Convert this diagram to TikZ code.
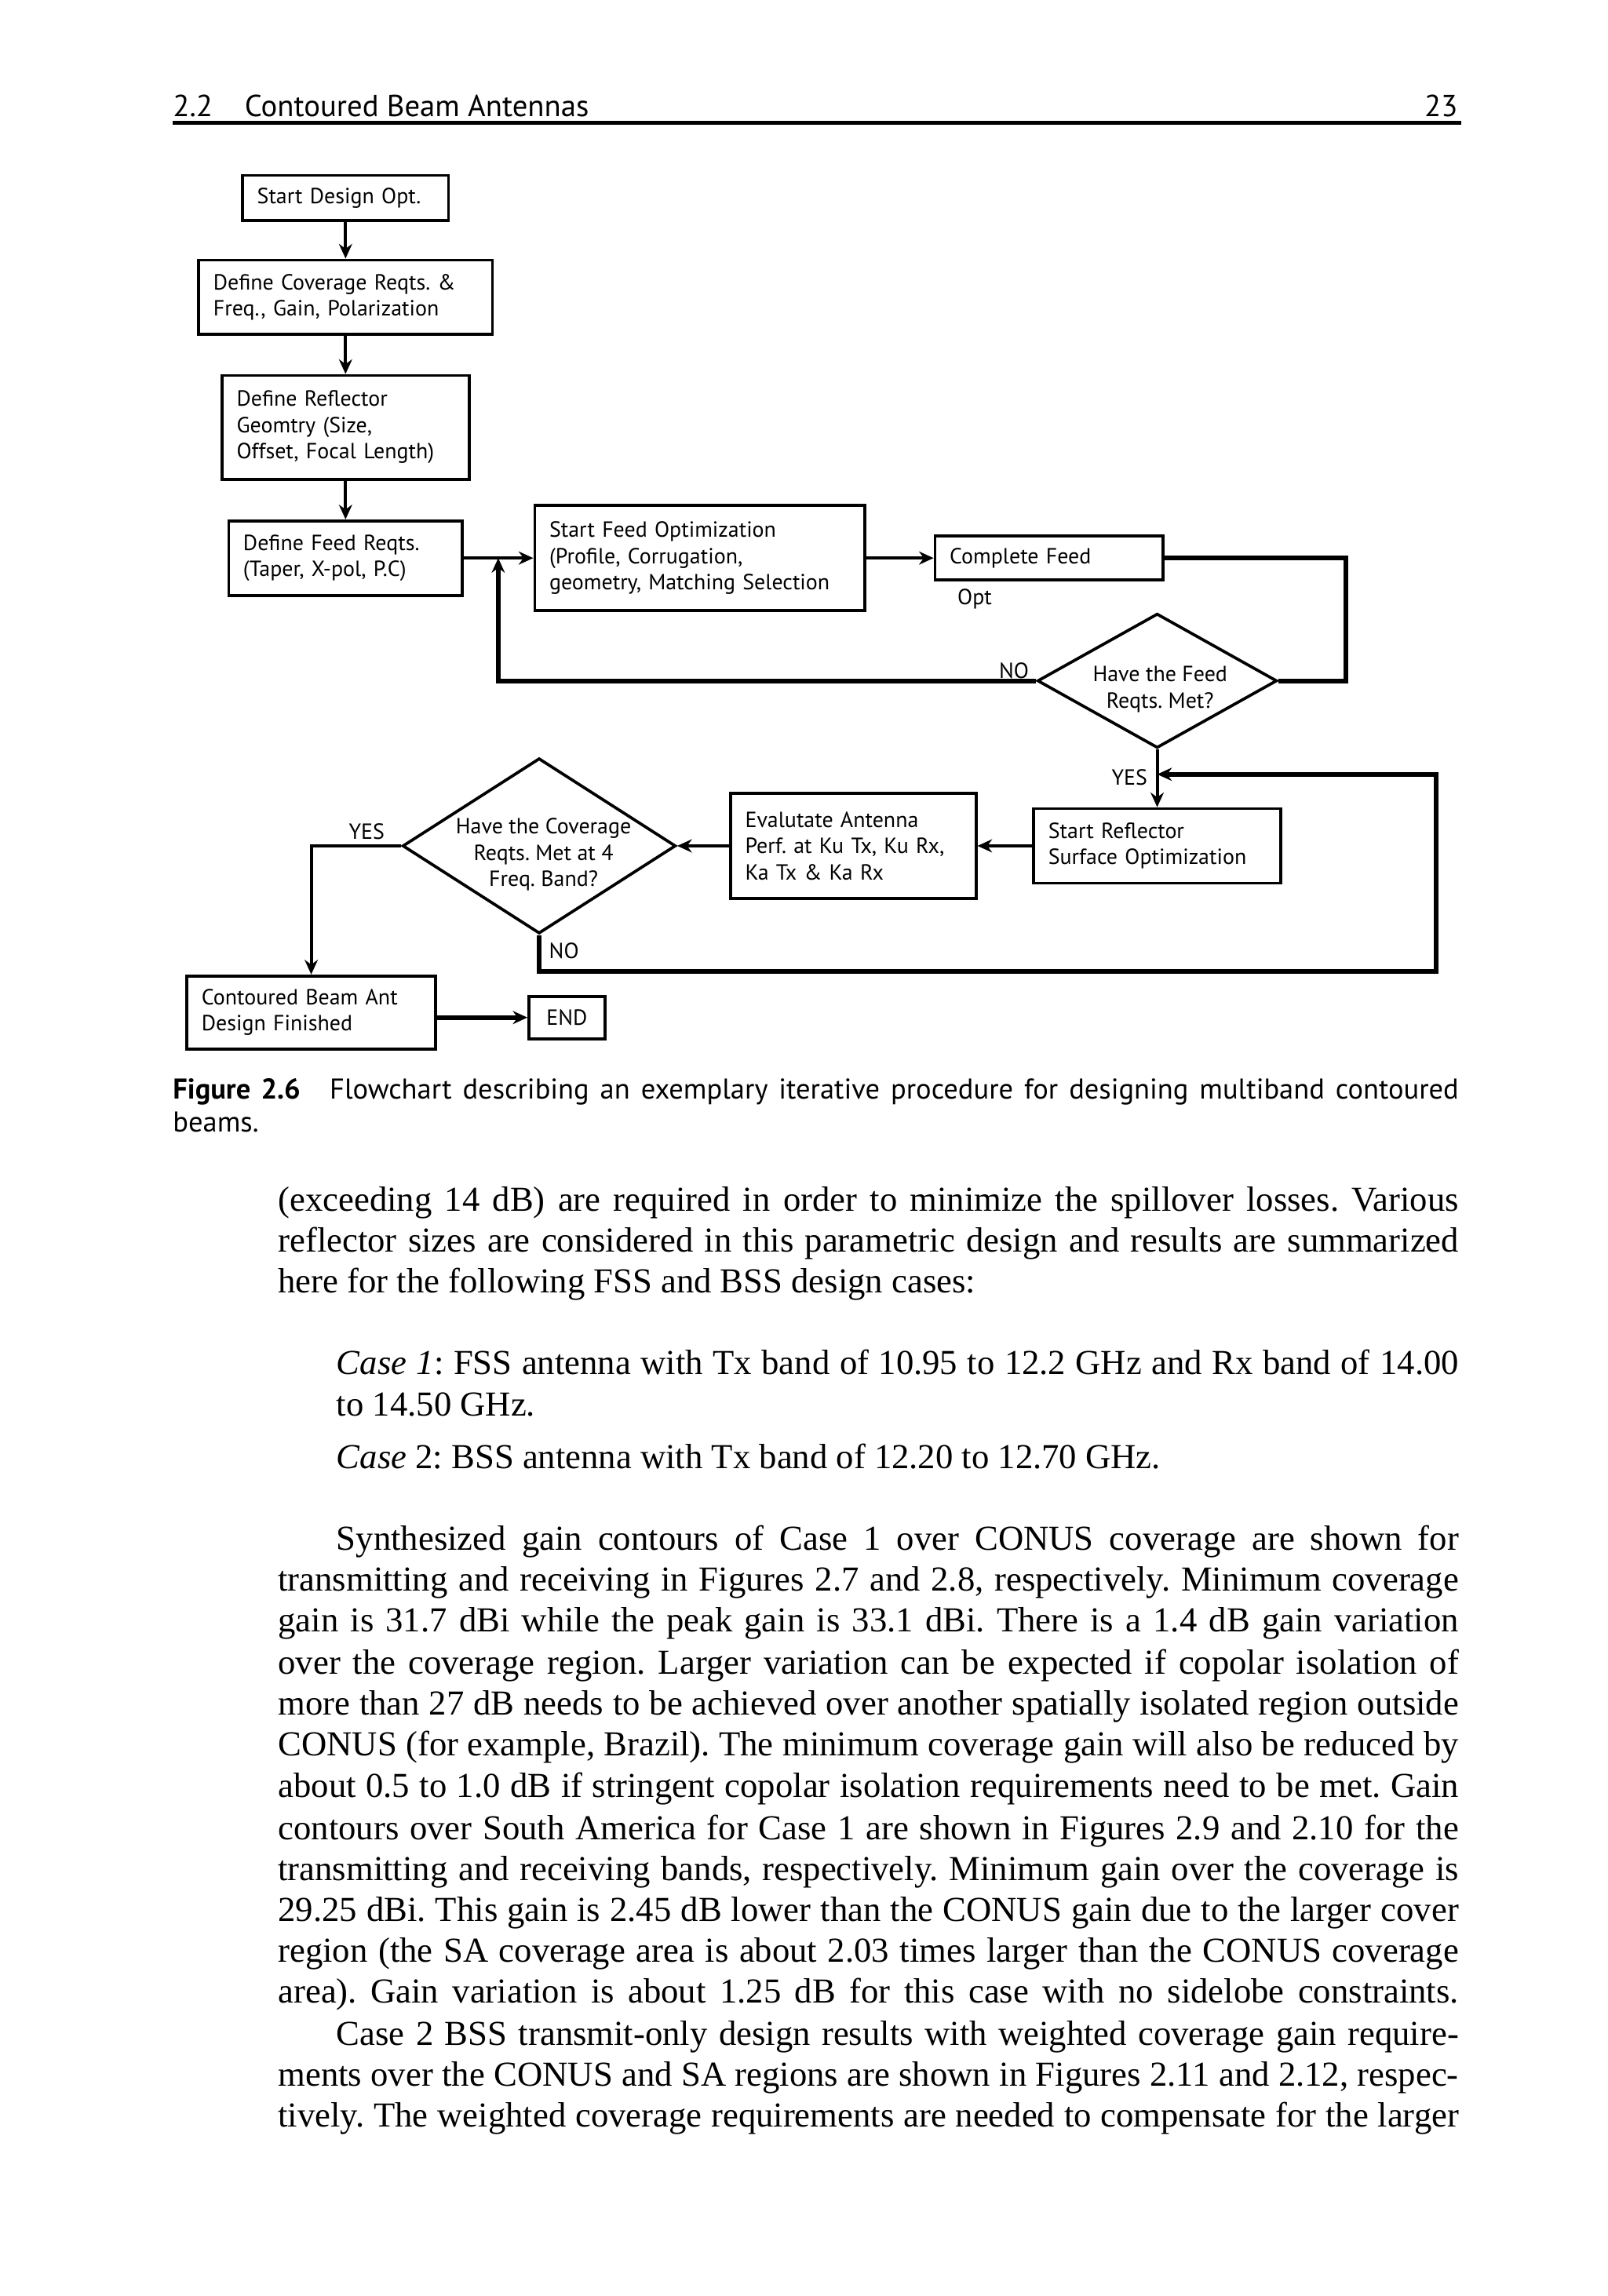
\documentclass[tikz,border=0pt]{standalone}
\usepackage{fontspec}
\setmainfont{Liberation Serif}
\newfontfamily\flowfont{PT Sans}
\usetikzlibrary{shapes.geometric,arrows.meta}
\frenchspacing
\tikzset{
  blk/.style={draw, line width=1pt, inner xsep=5pt, inner ysep=2pt, align=left, font=\flowfont\fontsize{7.5}{9}\selectfont},
  dec/.style={draw, diamond, line width=1pt, inner sep=0pt},
  dectxt/.style={align=center, inner sep=0pt, font=\flowfont\fontsize{7.5}{9}\selectfont},
  lbl/.style={inner sep=0pt, font=\flowfont\fontsize{7.5}{9}\selectfont},
  flow/.style={line width=1.1pt, -{Stealth[length=5pt,width=4.5pt]}},
  fbline/.style={line width=1.6pt},
  hdr/.style={anchor=base, inner sep=0pt, font=\flowfont\fontsize{10.4}{13}\selectfont},
  capline/.style={anchor=base west, inner sep=0pt, font=\flowfont\fontsize{9.8}{11.5}\selectfont},
  txt/.style={anchor=base west, inner sep=0pt, font=\fontsize{12}{14}\selectfont}
}
\newcommand{\fullline}[1]{\makebox[404pt][s]{#1}}
\newcommand{\caseline}[1]{\makebox[384pt][s]{#1}}
\begin{document}
\begin{tikzpicture}[x=0.5pt,y=-0.5pt]
  \useasboundingbox (0,0) rectangle (1100,1571.6);

  \node[hdr, anchor=base west] (HA) at (118,80) {2.2\hspace{11pt}Contoured Beam Antennas};
  \node[hdr, anchor=base east] (HB) at (998,80) {23};
  \draw[line width=1.3pt] (118,84) -- (1000,84);

  \node[blk, text width=60.5pt, minimum height=15.5pt] (FA) at (236.5,135.5) {Start Design Opt.};
  \node[blk, text width=90.5pt, minimum height=25.5pt] (FB) at (236.5,203.5) {Define Coverage Reqts. \&\\Freq., Gain, Polarization};
  \node[blk, text width=74.5pt, minimum height=35.5pt] (FC) at (236.5,292.5) {Define Reflector\\Geomtry (Size,\\Offset, Focal Length)};
  \node[blk, text width=70pt, minimum height=25.5pt] (FD) at (236.5,382) {Define Feed Reqts.\\(Taper, X-pol, P.C)};
  \node[blk, text width=103pt, minimum height=36pt] (FE) at (479,382) {Start Feed Optimization\\(Profile, Corrugation,\\geometry, Matching Selection};
  \node[blk, text width=68pt, minimum height=15pt] (FF) at (718,382) {Complete Feed};
  \node[lbl, anchor=west] (FG) at (655,410) {Opt};
  \node[dec, minimum width=82pt, minimum height=46pt] (FH) at (792,466) {};
  \node[dectxt] (FI) at (794,472) {Have the Feed\\Reqts. Met?};
  \node[blk, text width=74.5pt, minimum height=25.5pt] (FJ) at (792,579) {Start Reflector\\Surface Optimization};
  \node[blk, text width=74pt, minimum height=36pt] (FK) at (584,579) {Evalutate Antenna\\Perf. at Ku Tx, Ku Rx,\\Ka Tx \& Ka Rx};
  \node[dec, minimum width=93.5pt, minimum height=60pt] (FL) at (369,579) {};
  \node[dectxt] (FM) at (372,585) {Have the Coverage\\Reqts. Met at 4\\Freq. Band?};
  \node[blk, text width=75pt, minimum height=25pt] (FN) at (213,693) {Contoured Beam Ant\\Design Finished};
  \node[blk, align=center, minimum width=26pt, minimum height=14.5pt] (FO) at (388,696.5) {END};

  \node[lbl] (LA) at (694,459) {NO};
  \node[lbl] (LB) at (773,532) {YES};
  \node[lbl] (LC) at (251,569) {YES};
  \node[lbl] (LD) at (386,651) {NO};

  \coordinate (CA) at (921,466);
  \coordinate (CB) at (341,466);
  \coordinate (CC) at (341,382);
  \coordinate (CD) at (983,665);
  \coordinate (CE) at (983,530);
  \coordinate (CF) at (792,530);

  \draw[flow] (FA) -- (FB);
  \draw[flow] (FB) -- (FC);
  \draw[flow] (FC) -- (FD);
  \draw[flow] (FD) -- (FE);
  \draw[flow] (FE) -- (FF);
  \draw[fbline] (FF.east) -| (CA) -- (FH.east);
  \draw[flow, fbline] (FH.west) -- (CB) -- (CC);
  \draw[flow] (FH) -- (FJ);
  \draw[flow, fbline] (FL.south) |- (CD) -- (CE) -- (CF);
  \draw[flow] (FJ) -- (FK);
  \draw[flow] (FK) -- (FL);
  \draw[flow] (FL.west) -| (FN.north);
  \draw[flow, fbline] (FN.east |- FO) -- (FO);

  \node[capline] (TA) at (118,752) {\makebox[440pt][s]{\textbf{Figure 2.6}\hspace{10pt}Flowchart describing an exemplary iterative procedure for designing multiband contoured}};
  \node[capline] (TB) at (118,775) {beams.};

  \node[txt] (BA) at (190,829) {\fullline{(exceeding 14 dB) are required in order to minimize the spillover losses. Various}};
  \node[txt] (BB) at (190,857) {\fullline{reflector sizes are considered in this parametric design and results are summarized}};
  \node[txt] (BC) at (190,885) {here for the following FSS and BSS design cases:};
  \node[txt] (BD) at (230,941) {\caseline{\textit{Case 1}: FSS antenna with Tx band of 10.95 to 12.2 GHz and Rx band of 14.00}};
  \node[txt] (BE) at (230,969) {to 14.50 GHz.};
  \node[txt] (BF) at (230,1005) {\textit{Case} 2: BSS antenna with Tx band of 12.20 to 12.70 GHz.};
  \node[txt] (BG) at (230,1061) {\caseline{Synthesized gain contours of Case 1 over CONUS coverage are shown for}};
  \node[txt] (BH) at (190,1089) {\fullline{transmitting and receiving in Figures 2.7 and 2.8, respectively. Minimum coverage}};
  \node[txt] (BI) at (190,1117) {\fullline{gain is 31.7 dBi while the peak gain is 33.1 dBi. There is a 1.4 dB gain variation}};
  \node[txt] (BJ) at (190,1146) {\fullline{over the coverage region. Larger variation can be expected if copolar isolation of}};
  \node[txt] (BK) at (190,1174) {\fullline{more than 27 dB needs to be achieved over another spatially isolated region outside}};
  \node[txt] (BL) at (190,1202) {\fullline{CONUS (for example, Brazil). The minimum coverage gain will also be reduced by}};
  \node[txt] (BM) at (190,1230) {\fullline{about 0.5 to 1.0 dB if stringent copolar isolation requirements need to be met. Gain}};
  \node[txt] (BN) at (190,1259) {\fullline{contours over South America for Case 1 are shown in Figures 2.9 and 2.10 for the}};
  \node[txt] (BO) at (190,1287) {\fullline{transmitting and receiving bands, respectively. Minimum gain over the coverage is}};
  \node[txt] (BP) at (190,1315) {\fullline{29.25 dBi. This gain is 2.45 dB lower than the CONUS gain due to the larger cover}};
  \node[txt] (BQ) at (190,1343) {\fullline{region (the SA coverage area is about 2.03 times larger than the CONUS coverage}};
  \node[txt] (BR) at (190,1371) {\fullline{area). Gain variation is about 1.25 dB for this case with no sidelobe constraints.}};
  \node[txt] (BS) at (230,1400) {\caseline{Case 2 BSS transmit-only design results with weighted coverage gain require-}};
  \node[txt] (BT) at (190,1428) {\fullline{ments over the CONUS and SA regions are shown in Figures 2.11 and 2.12, respec-}};
  \node[txt] (BU) at (190,1456) {\fullline{tively. The weighted coverage requirements are needed to compensate for the larger}};
\end{tikzpicture}
\end{document}
